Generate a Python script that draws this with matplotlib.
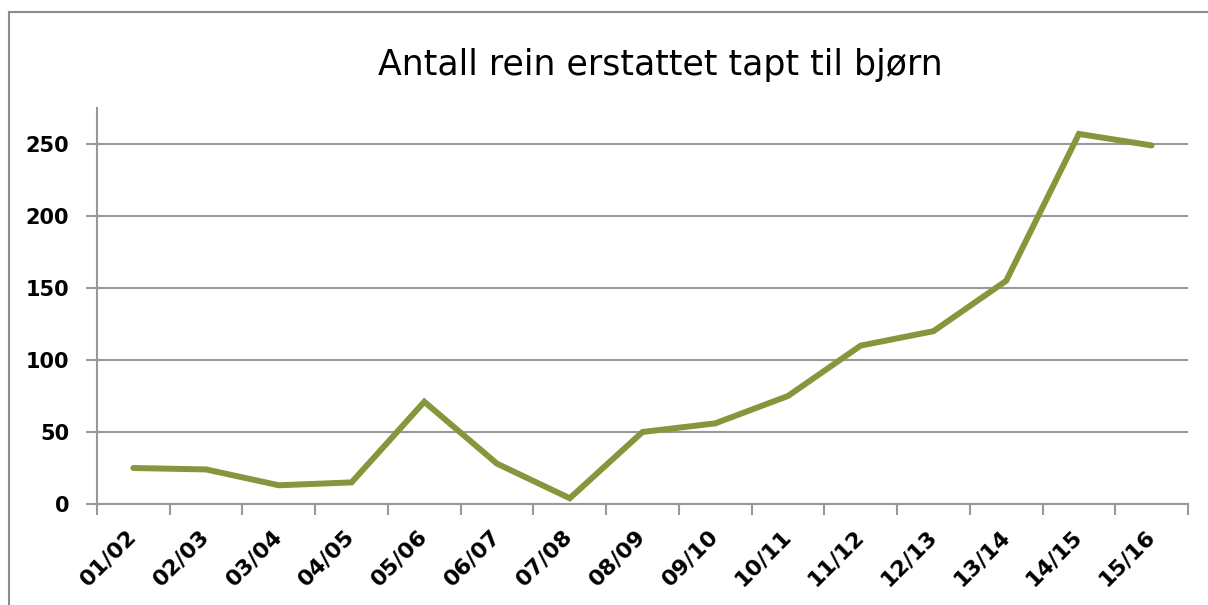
import matplotlib
matplotlib.use("Agg")
import matplotlib.pyplot as plt
from matplotlib.lines import Line2D

# ----------------------------------------------------------------------
# Data
# ----------------------------------------------------------------------
seasons = ["01/02", "02/03", "03/04", "04/05", "05/06", "06/07", "07/08",
           "08/09", "09/10", "10/11", "11/12", "12/13", "13/14", "14/15",
           "15/16"]
reindeer = [25, 24, 13, 15, 71, 28, 4, 50, 56, 75, 110, 120, 155, 257, 249]
y_ticks = [0, 50, 100, 150, 200, 250]

TITLE = "Antall rein erstattet tapt til bjørn"
LINE_COLOR = "#84973c"
GRID_COLOR = "#999999"

plt.rcParams["font.family"] = ["DejaVu Sans"]

fig = plt.figure(figsize=(12.08, 6.05), dpi=100)

# chart frame: only the top and left edges show in the crop
fx, fy = 9 / 1208, 1 - 12 / 605
fig.add_artist(Line2D([fx, 1.0], [fy, fy], transform=fig.transFigure,
                      color="#8c8c8c", linewidth=1.5))
fig.add_artist(Line2D([fx, fx], [0.0, fy], transform=fig.transFigure,
                      color="#8c8c8c", linewidth=1.5))

ax = fig.add_axes([97 / 1208, 1 - 504 / 605, (1188 - 97) / 1208,
                   (504 - 108) / 605])

x = list(range(len(seasons)))
ax.plot(x, reindeer, color=LINE_COLOR, linewidth=4.3,
        solid_joinstyle="miter", solid_capstyle="round", zorder=3)

ax.set_xlim(-0.5, len(seasons) - 0.5)
ax.set_ylim(0, 275)
ax.set_yticks(y_ticks)
ax.set_yticklabels([str(v) for v in y_ticks], fontsize=15, fontweight="bold")
ax.yaxis.grid(True, color=GRID_COLOR, linewidth=1.5)
ax.set_axisbelow(True)

ax.set_xticks(x)
ax.set_xticklabels(seasons, rotation=45, ha="right", va="center",
                   rotation_mode="anchor", fontsize=16, fontweight="bold")
ax.set_xticks([i - 0.5 for i in range(len(seasons) + 1)], minor=True)
ax.tick_params(axis="x", which="major", length=0, pad=21)
ax.tick_params(axis="x", which="minor", length=8, width=1.5,
               color=GRID_COLOR)
ax.tick_params(axis="y", length=8, width=1.5, color=GRID_COLOR, pad=12)

for side in ("top", "right"):
    ax.spines[side].set_visible(False)
for side in ("left", "bottom"):
    ax.spines[side].set_color(GRID_COLOR)
    ax.spines[side].set_linewidth(1.5)

fig.text(660 / 1208, 1 - 65 / 605, TITLE, ha="center", va="center",
         fontsize=25)

fig.savefig("out.png", dpi=100)
